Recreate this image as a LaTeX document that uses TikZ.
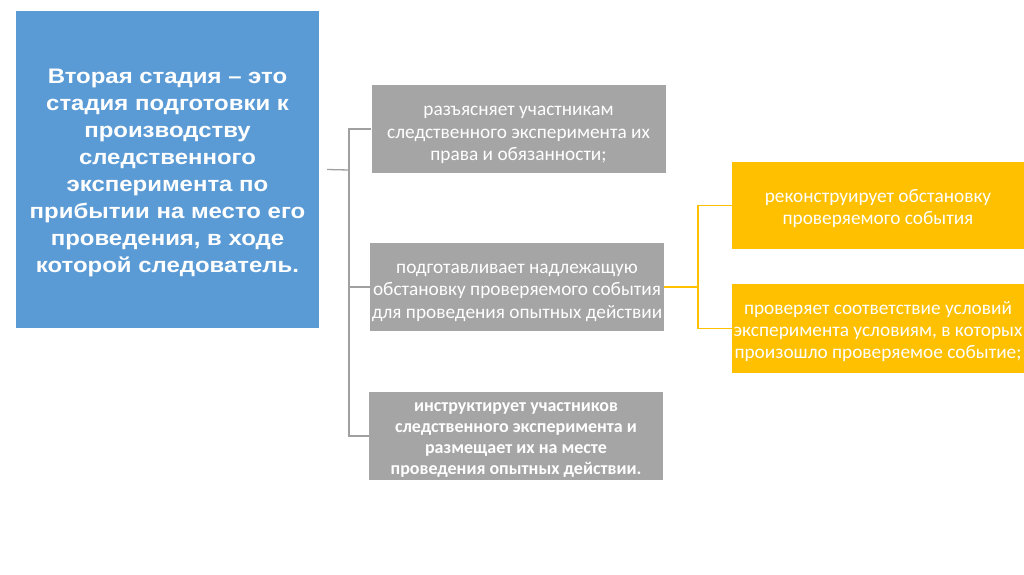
\documentclass[tikz,border=0pt]{standalone}
\usepackage{fontspec}
\setmainfont{Carlito}
\newfontfamily\arialbold{Liberation Sans}[BoldFont={Liberation Sans Bold}, BoldFeatures={FakeStretch=1.14}]
\definecolor{bluebox}{HTML}{5B9BD5}
\definecolor{graybox}{HTML}{A5A5A5}
\definecolor{yellowbox}{HTML}{FFC000}
\definecolor{glinec}{HTML}{A0A0A0}
\newcommand{\topstrut}[1]{\rule{0pt}{#1}}
\tikzset{
  box/.style={inner sep=0pt, align=center, text=white, anchor=center},
  bluestyle/.style={box, fill=bluebox, minimum width=303pt, minimum height=317pt, font=\arialbold\bfseries\fontsize{21}{27}\selectfont},
  graystyle/.style={box, fill=graybox, minimum width=294pt, minimum height=88pt, font=\fontsize{19.3}{22.5}\selectfont},
  graybold/.style={graystyle, font=\bfseries\fontsize{18}{21}\selectfont},
  yellowstyle/.style={box, fill=yellowbox, minimum width=292pt, font=\fontsize{19.3}{22}\selectfont},
  gline/.style={draw=glinec, line width=1.3pt},
  yline/.style={draw=yellowbox, line width=1.3pt}
}
\begin{document}
\begin{tikzpicture}[x=1pt,y=-1pt]
\useasboundingbox (0,0) rectangle (1024,574);
\node[bluestyle] (blue) at (167.5,169.5) {\topstrut{22pt}Вторая стадия – это\\стадия подготовки к\\производству\\следственного\\эксперимента по\\прибытии на место его\\проведения, в ходе\\которой следователь.};
\node[graystyle] (g1) at (518.5,129) {\topstrut{22pt}разъясняет участникам\\следственного эксперимента их\\права и обязанности;};
\node[graystyle] (g2) at (517,287) {\topstrut{21pt}подготавливает надлежащую\\обстановку проверяемого события\\для проведения опытных действии};
\node[graybold] (g3) at (516,436) {\topstrut{16pt}инструктирует участников\\следственного эксперимента и\\размещает их на месте\\проведения опытных действии.};
\node[yellowstyle, minimum height=87pt] (ya) at (878,205.5) {\topstrut{20pt}реконструирует обстановку\\проверяемого события};
\node[yellowstyle, minimum height=89pt] (yb) at (878,328.5) {\topstrut{20pt}проверяет соответствие условий\\эксперимента условиям, в которых\\произошло проверяемое событие;};
\coordinate (tx) at (349,170);
\coordinate (ty) at (698,287);
\draw[gline] ([xshift=8pt]blue.east) -- (tx);
\draw[gline] (g1.west) -- (g1.west -| tx) -- (g3.west -| tx) -- (g3.west);
\draw[gline] (g2.west) -- (g2.west -| tx);
\draw[yline] (g2.east) -- (ty);
\draw[yline] (ya.west) -- (ya.west -| ty) -- (yb.west -| ty) -- (yb.west);
\end{tikzpicture}
\end{document}
